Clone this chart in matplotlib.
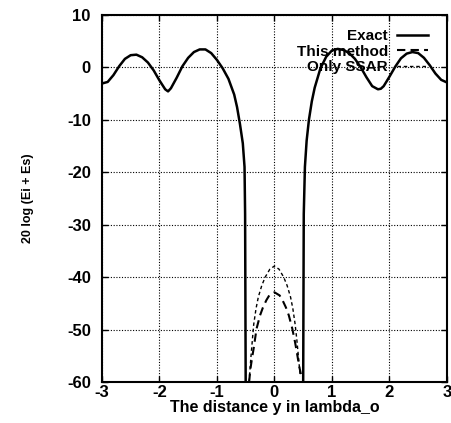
import numpy as np
import matplotlib
matplotlib.use("Agg")
import matplotlib.pyplot as plt

plt.rcParams['font.family'] = ['Liberation Sans', 'DejaVu Sans']
plt.rcParams['font.weight'] = 'bold'
plt.rcParams['axes.unicode_minus'] = False

# Exact (solid) - left lobe region
exact_x_left = [-3.0, -2.9, -2.8, -2.7, -2.6, -2.5, -2.4, -2.3, -2.2, -2.1, -2.0,
                -1.9, -1.85, -1.8, -1.7, -1.6, -1.5, -1.4, -1.3, -1.2, -1.1, -1.0,
                -0.9, -0.8, -0.7, -0.65, -0.6, -0.55, -0.52, -0.51, -0.5]
exact_y_left = [-3.1, -2.8, -1.5, 0.2, 1.6, 2.3, 2.4, 1.9, 0.9, -0.6, -2.5,
                -4.2, -4.6, -4.0, -2.0, 0.2, 1.8, 2.9, 3.4, 3.4, 2.7, 1.4,
                -0.2, -2.2, -5.2, -7.6, -10.8, -14.5, -19.0, -28.0, -60.0]
# Exact (solid) - right lobe region
exact_x_right = [0.5, 0.51, 0.53, 0.56, 0.6, 0.65, 0.7, 0.8, 0.9, 1.0, 1.1, 1.2,
                 1.3, 1.4, 1.5, 1.6, 1.7, 1.8, 1.85, 1.9, 2.0, 2.1, 2.2, 2.3,
                 2.4, 2.5, 2.6, 2.7, 2.8, 2.9, 3.0]
exact_y_right = [-60.0, -28.0, -19.0, -14.0, -10.0, -6.5, -3.9, -0.2, 2.0, 3.2, 3.5, 3.3,
                 2.7, 1.6, 0.0, -1.9, -3.6, -4.2, -4.1, -3.6, -1.8, 0.1, 1.7, 2.6,
                 2.9, 2.7, 1.8, 0.4, -1.2, -2.4, -2.9]

# This method (dashed)
method_x = [-0.44, -0.42, -0.39, -0.36, -0.31, -0.25, -0.2, -0.14, -0.09, 0.0,
            0.09, 0.14, 0.2, 0.25, 0.31, 0.36, 0.4, 0.43, 0.46]
method_y = [-60.0, -57.7, -55.5, -53.5, -49.8, -47.3, -45.8, -44.4, -43.5, -42.9,
            -43.5, -44.4, -45.8, -47.3, -49.8, -52.5, -55.0, -57.0, -58.5]

# Only SSAR (fine dashes)
ssar_x = [-0.44, -0.41, -0.38, -0.36, -0.32, -0.28, -0.22, -0.16, -0.08, 0.0,
          0.08, 0.16, 0.22, 0.28, 0.32, 0.36, 0.39, 0.42, 0.45]
ssar_y = [-60.0, -55.4, -51.5, -49.0, -46.0, -43.8, -41.6, -40.0, -38.5, -37.9,
          -38.5, -40.0, -41.6, -43.8, -46.0, -49.0, -52.0, -55.5, -59.0]

fig = plt.figure(figsize=(4.51, 4.23), dpi=100)
ax = fig.add_axes([0.226, 0.097, 0.765, 0.868])

ax.plot(exact_x_left, exact_y_left, color='black', lw=1.8, label='Exact')
ax.plot(exact_x_right, exact_y_right, color='black', lw=1.8)
ax.plot(method_x, method_y, color='black', lw=1.5, dashes=(4, 2.5), label='This method')
ax.plot(ssar_x, ssar_y, color='black', lw=1.0, dashes=(2.5, 2), label='Only SSAR')

ax.set_xlim(-3, 3)
ax.set_ylim(-60, 10)
ax.set_xticks([-3, -2, -1, 0, 1, 2, 3])
ax.set_yticks([10, 0, -10, -20, -30, -40, -50, -60])
ax.grid(True, color='black', linestyle=(0, (1, 1.5)), lw=0.8)
ax.tick_params(direction='in', length=4, width=1, top=True, right=True,
               labelsize=12)
ax.tick_params(axis='x', pad=2)
ax.tick_params(axis='y', pad=8)
for lab in ax.get_xticklabels() + ax.get_yticklabels():
    lab.set_fontweight('bold')
for s in ax.spines.values():
    s.set_linewidth(1.5)

ax.set_xlabel('The distance y in lambda_o', fontsize=11.5, fontweight='bold', labelpad=0)
ax.set_ylabel('20 log (Ei + Es)', fontsize=9, fontweight='bold', labelpad=24)

leg = ax.legend(loc='upper right', bbox_to_anchor=(0.975, 0.99), frameon=False,
                markerfirst=False, fontsize=11, handlelength=2.0, handletextpad=0.6,
                labelspacing=0.1, borderaxespad=0.3)
for t in leg.get_texts():
    t.set_fontweight('bold')

fig.savefig('out.png', dpi=100)
